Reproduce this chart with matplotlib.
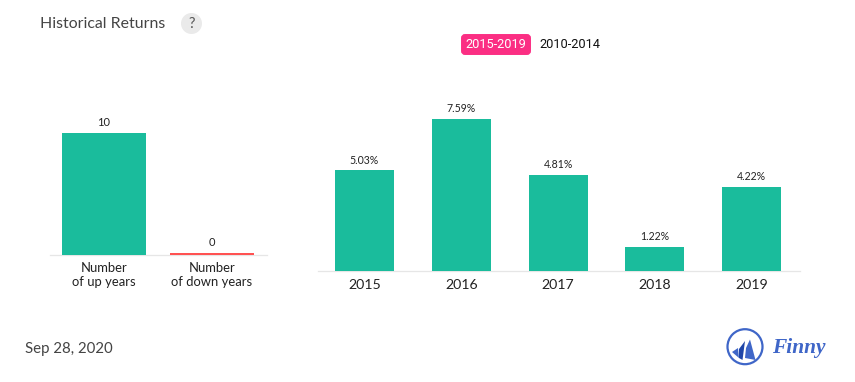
import matplotlib
matplotlib.use("Agg")
import matplotlib.pyplot as plt
from matplotlib.patches import Circle, FancyBboxPatch, Polygon

plt.rcParams['font.family'] = ['Lato', 'DejaVu Sans']

count_labels = ["Number\nof up years", "Number\nof down years"]
count_values = [10, 0]
count_colors = ["#1ABC9C", "#FF5252"]
years = ["2015", "2016", "2017", "2018", "2019"]
returns = [5.03, 7.59, 4.81, 1.22, 4.22]
return_labels = ["5.03%", "7.59%", "4.81%", "1.22%", "4.22%"]

W, H = 855, 382
fig = plt.figure(figsize=(W / 100, H / 100), dpi=100, facecolor="white")


def px_axes(x0, y0, x1, y1):
    ax = fig.add_axes([x0 / W, 1 - y1 / H, (x1 - x0) / W, (y1 - y0) / H])
    ax.patch.set_alpha(0)
    for s in ["top", "left", "right"]:
        ax.spines[s].set_visible(False)
    ax.spines["bottom"].set_color("#E6E6E6")
    ax.spines["bottom"].set_linewidth(0.9)
    ax.set_yticks([])
    ax.tick_params(axis="x", length=0)
    return ax


# left panel
ax1 = px_axes(50, 100, 267, 255)
shown = [max(v, 0.18) for v in count_values]
ax1.bar(range(2), shown, width=0.778, color=count_colors, zorder=3)
ax1.set_xlim(-0.5, 1.509)
ax1.set_ylim(0, 155 / 12.2)
ax1.set_xticks(range(2), count_labels, fontsize=9.4, color="#222222", linespacing=1.12)
ax1.tick_params(axis="x", pad=5.4)
for lab in ax1.get_xticklabels():
    lab.set_x(lab.get_position()[0])
for i, v in enumerate(count_values):
    ax1.text(i, shown[i] + 0.38, str(v), ha="center", va="bottom", fontsize=8, color="#222222")

# right panel
ax2 = px_axes(318, 100, 800, 271)
ax2.bar(range(5), returns, width=0.61, color="#1ABC9C", zorder=3)
ax2.set_xlim(-0.48, 4.5)
ax2.set_ylim(0, 171 / 20)
ax2.set_xticks(range(5), years, fontsize=10.2, color="#222222")
ax2.tick_params(axis="x", pad=6)
for i, lab in enumerate(return_labels):
    ax2.text(i, returns[i] + 0.24, lab, ha="center", va="bottom", fontsize=7.6, color="#222222")

# overlay in pixel coordinates
ov = fig.add_axes([0, 0, 1, 1])
ov.set_xlim(0, W)
ov.set_ylim(H, 0)
ov.axis("off")
ov.patch.set_alpha(0)

ov.text(40, 24, "Historical Returns", fontsize=11.45, color="#444444", va="center", ha="left")
ov.add_patch(Circle((191.5, 23.5), 10.5, color="#EAEAEA", lw=0))
ov.text(191.5, 23.5, "?", fontsize=10.5, color="#555555", ha="center", va="center")

ov.add_patch(FancyBboxPatch((462, 35), 68, 19, boxstyle="round,pad=0,rounding_size=3",
                            fc="#FB2E83", ec="#FB2E83", lw=1.4))
ov.text(496, 44.5, "2015-2019", fontsize=9.2, color="white", ha="center", va="center",
        family="Roboto")
ov.text(570, 44.5, "2010-2014", fontsize=9.2, color="#111111", ha="center", va="center",
        family="Roboto")

ov.text(25, 349, "Sep 28, 2020", fontsize=10.8, color="#444444", ha="left", va="center")

# logo
ov.add_patch(Circle((745, 346.7), 17.5, fc="white", ec="#3F66C8", lw=1.6))
ov.add_patch(Polygon([(732, 352), (738, 348), (739, 358)], fc="#3F66C8", lw=0))
ov.add_patch(Polygon([(739, 358), (739, 349), (745, 341), (742.5, 360)], fc="#1F45A8", lw=0))
ov.add_patch(Polygon([(745, 358), (746, 348), (750, 339.5), (755.5, 360)], fc="#3F66C8", lw=0))
ov.text(772, 347.5, "Finny", fontsize=15.4, color="#3F66C8", style="italic", weight="bold",
        family="Liberation Serif", ha="left", va="center")

fig.savefig("out.png", dpi=100, facecolor="white")
